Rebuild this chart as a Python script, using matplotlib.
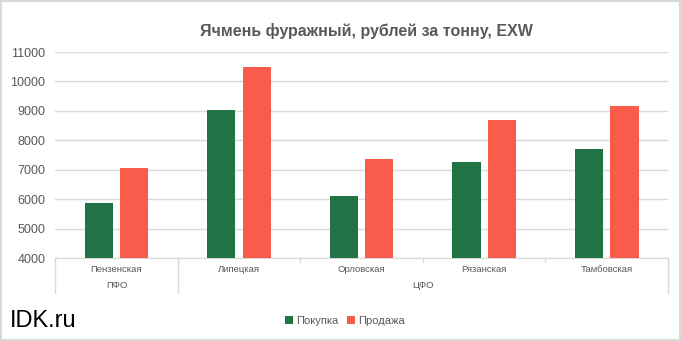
import numpy as np
import matplotlib.pyplot as plt
from matplotlib.patches import Rectangle

plt.rcParams['font.family'] = ['Liberation Sans', 'DejaVu Sans']

regions = ["Пензенская", "Липецкая", "Орловская", "Рязанская", "Тамбовская"]
districts = ["ПФО", "ЦФО", "ЦФО", "ЦФО", "ЦФО"]
buy = [5870, 9030, 6100, 7260, 7700]
sell = [7060, 10500, 7370, 8700, 9170]

GREEN = '#217346'
RED = '#F95C4B'
GREY = '#595959'

fig = plt.figure(figsize=(6.81, 3.41), dpi=100)
ax = fig.add_axes([0.081, 0.2434, 0.9, 0.6041])

x = np.arange(len(regions))
w = 0.23
off = 0.145
ax.bar(x - off, buy, w, color=GREEN, label="Покупка", zorder=3)
ax.bar(x + off, sell, w, color=RED, label="Продажа", zorder=3)

ax.set_xlim(-0.5, len(regions) - 0.5)
ax.set_ylim(4000, 11000)
ax.set_yticks(range(4000, 11001, 1000))
ax.tick_params(axis='y', length=0, labelsize=9, labelcolor=GREY, pad=7)
ax.set_xticks([])
ax.grid(axis='y', color='#d9d9d9', linewidth=1, zorder=0)
for s in ['top', 'right', 'left']:
    ax.spines[s].set_visible(False)
ax.spines['bottom'].set_color('#d9d9d9')

# two-level category axis
trans = ax.get_xaxis_transform()
for i, r in enumerate(regions):
    ax.text(i, -0.055, r, transform=trans, ha='center', va='center',
            fontsize=6.8, color=GREY)
groups = []
for i, d in enumerate(districts):
    if groups and groups[-1][0] == d:
        groups[-1][2] = i
    else:
        groups.append([d, i, i])
for d, a, b in groups:
    ax.text((a + b) / 2, -0.135, d, transform=trans, ha='center', va='center',
            fontsize=6.8, color=GREY)
    ax.plot([a - 0.5, a - 0.5], [0, -0.17], transform=trans, color='#d9d9d9',
            linewidth=1, clip_on=False)
ax.plot([len(regions) - 0.5] * 2, [0, -0.17], transform=trans, color='#d9d9d9',
        linewidth=1, clip_on=False)
for i in range(len(regions) - 1):
    ax.plot([i + 0.5] * 2, [0, -0.02], transform=trans, color='#d9d9d9',
            linewidth=1, clip_on=False)

fig.text(0.538, 0.91, "Ячмень фуражный, рублей за тонну, EXW", ha='center',
         va='center', fontsize=11.5, fontweight='bold', color=GREY)
fig.text(0.014, 0.06, "IDK.ru", ha='left', va='center', fontsize=17, color='black')

fig.legend(loc='center', bbox_to_anchor=(0.507, 0.058), ncol=2, frameon=False,
           fontsize=8, handlelength=0.7, handleheight=0.7, handletextpad=0.3,
           columnspacing=0.8, labelcolor=GREY)

fig.patches.append(Rectangle((0.001, 0.002), 0.997, 0.995, transform=fig.transFigure,
                             fill=False, edgecolor='#d9d9d9', linewidth=1.5))

fig.savefig('out.png', dpi=100)
